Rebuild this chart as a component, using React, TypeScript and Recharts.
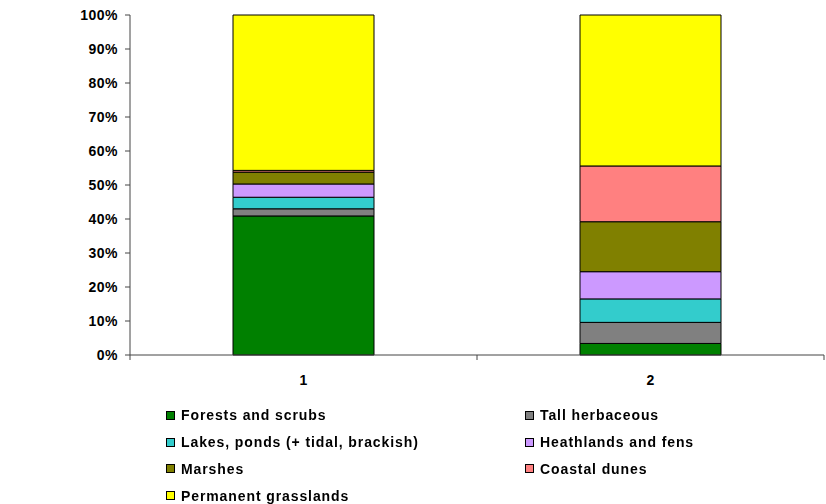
import { Bar, BarChart, XAxis, YAxis } from "recharts";

const CATEGORIES = ["1", "2"];

const FORESTS = [40.9, 3.4];
const TALL_HERB = [2.1, 6.2];
const LAKES = [3.4, 6.9];
const HEATHLANDS = [3.9, 8.0];
const MARSHES = [3.5, 14.7];
const DUNES = [0.5, 16.4];
const GRASSLANDS = [45.7, 44.4];

const Y_TICKS = [0, 0.1, 0.2, 0.3, 0.4, 0.5, 0.6, 0.7, 0.8, 0.9, 1];

const SERIES = [
  { key: "forests", name: "Forests and scrubs", values: FORESTS, color: "#008000" },
  { key: "tall", name: "Tall herbaceous", values: TALL_HERB, color: "#808080" },
  { key: "lakes", name: "Lakes, ponds (+ tidal, brackish)", values: LAKES, color: "#33CCCC" },
  { key: "heath", name: "Heathlands and fens", values: HEATHLANDS, color: "#CC99FF" },
  { key: "marshes", name: "Marshes", values: MARSHES, color: "#808000" },
  { key: "dunes", name: "Coastal dunes", values: DUNES, color: "#FF8080" },
  { key: "grass", name: "Permanent grasslands", values: GRASSLANDS, color: "#FFFF00" },
];

const chartData = CATEGORIES.map((name, i) => {
  const row: Record<string, string | number> = { name };
  SERIES.forEach((s) => {
    row[s.key] = s.values[i];
  });
  return row;
});

const FONT = "'Liberation Sans', Arial, sans-serif";
const AXIS_COLOR = "#444";

function XTick(props: any) {
  const { x, y, payload, index, visibleTicksCount } = props;
  const off = payload?.offset ?? 0;
  const isLast = index === visibleTicksCount - 1;
  return (
    <g>
      <line x1={x - off} x2={x - off} y1={y} y2={y + 5} stroke={AXIS_COLOR} />
      {isLast && (
        <line x1={x + off} x2={x + off} y1={y} y2={y + 5} stroke={AXIS_COLOR} />
      )}
      <text
        x={x}
        y={y + 30}
        textAnchor="middle"
        fontFamily={FONT}
        fontWeight="bold"
        fontSize={14}
        fill="#000"
      >
        {payload.value}
      </text>
    </g>
  );
}

export default function App() {
  return (
    <div
      style={{
        position: "fixed",
        left: 0,
        top: 0,
        width: 826,
        height: 504,
        background: "#fff",
        fontFamily: FONT,
      }}
    >
      <BarChart
        width={826}
        height={504}
        data={chartData}
        stackOffset="expand"
        margin={{ top: 15, right: 2, bottom: 119, left: 0 }}
      >
        <XAxis
          dataKey="name"
          height={30}
          stroke={AXIS_COLOR}
          tickLine={false}
          tickSize={0}
          tickMargin={0}
          tick={<XTick />}
          interval={0}
        />
        <YAxis
          width={130}
          domain={[0, 1]}
          ticks={Y_TICKS}
          interval={0}
          tickFormatter={(v: number) => `${Math.round(v * 100)}%`}
          stroke={AXIS_COLOR}
          tickSize={5}
          tickMargin={7}
          tick={{
            fill: "#000",
            fontSize: 14,
            fontWeight: "bold",
            fontFamily: FONT,
            letterSpacing: 0.5,
          }}
        />
        {SERIES.map((s) => (
          <Bar
            key={s.key}
            dataKey={s.key}
            name={s.name}
            stackId="a"
            fill={s.color}
            stroke="#000"
            strokeWidth={1}
            barSize={141}
            isAnimationActive={false}
          />
        ))}
      </BarChart>
      <div
        style={{
          position: "absolute",
          left: 166,
          top: 402,
          display: "grid",
          gridTemplateColumns: "359px 300px",
          rowGap: 0,
        }}
      >
        {SERIES.map((s) => (
          <div
            key={s.key}
            style={{
              display: "flex",
              alignItems: "center",
              height: 26.8,
              fontSize: 14,
              fontWeight: "bold",
              letterSpacing: 0.9,
              color: "#000",
              whiteSpace: "nowrap",
            }}
          >
            <span
              style={{
                display: "inline-block",
                width: 7,
                height: 7,
                border: "1px solid #000",
                background: s.color,
                marginRight: 6,
              }}
            />
            {s.name}
          </div>
        ))}
      </div>
    </div>
  );
}
